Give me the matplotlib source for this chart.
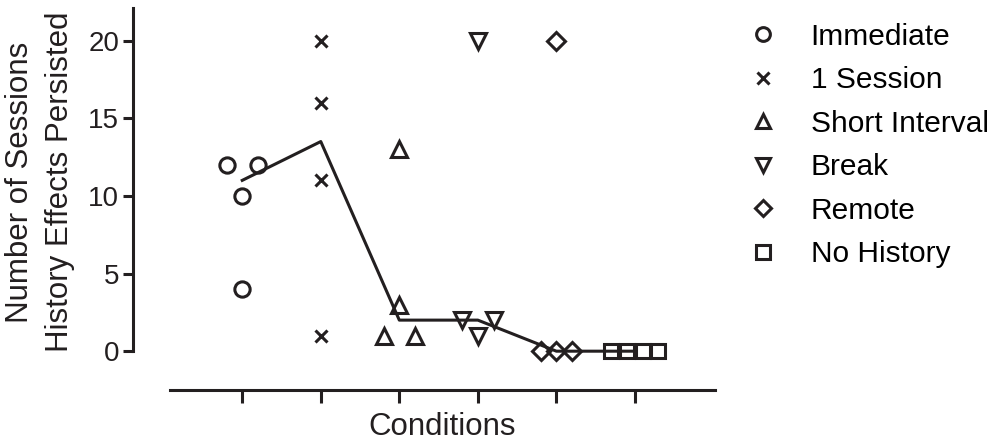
import matplotlib
matplotlib.use("Agg")
import matplotlib.pyplot as plt
import numpy as np

plt.rcParams["font.family"] = ["Liberation Sans", "DejaVu Sans"]

conditions = ["Immediate", "1 Session", "Short Interval", "Break", "Remote", "No History"]
markers = ["o", "x", "^", "v", "D", "s"]

# per-condition values and horizontal jitter (in category units)
values = [
    [12, 12, 10, 4],
    [20, 16, 11, 1],
    [13, 3, 1, 1],
    [20, 2, 1, 2],
    [20, 0, 0, 0],
    [0, 0, 0, 0],
]
jitter = [
    [-0.2, 0.2, 0.0, 0.0],
    [0.0, 0.0, 0.0, 0.0],
    [0.0, 0.0, -0.2, 0.2],
    [0.0, -0.2, 0.0, 0.2],
    [0.0, -0.2, 0.0, 0.2],
    [-0.3, -0.1, 0.1, 0.3],
]
medians = [np.median(v) for v in values]

ink = "#231f20"

fig = plt.figure(figsize=(10, 4.41), dpi=100)
ax = fig.add_axes([0.170, 51 / 441, 0.545, 382 / 441])

sizes = {"o": 11, "x": 9, "^": 11, "v": 11, "D": 9.5, "s": 10.5}
handles = []
for i, (name, mk) in enumerate(zip(conditions, markers)):
    xs = np.array(jitter[i]) + i + 1
    h, = ax.plot(xs, values[i], linestyle="none", marker=mk, markersize=sizes[mk],
                 markerfacecolor="none", markeredgecolor=ink,
                 markeredgewidth=2.2, label=name)
    handles.append(h)

ax.plot(np.arange(1, 7), medians, color=ink, linewidth=2.2, zorder=1)

ax.set_xlim(0.08, 7.02)
ax.set_ylim(-2.5, 22.1)
ax.spines["top"].set_visible(False)
ax.spines["right"].set_visible(False)
ax.spines["left"].set_position(("outward", 26.6))
ax.spines["left"].set_bounds(0, 22.1)
for s in ["left", "bottom"]:
    ax.spines[s].set_linewidth(2.2)
    ax.spines[s].set_color(ink)

ax.set_xticks(np.arange(1, 7))
ax.set_xticklabels([])
ax.set_yticks([0, 5, 10, 15, 20])
ax.tick_params(axis="both", width=2.2, color=ink, labelsize=20,
               labelcolor=ink)
ax.tick_params(axis="x", length=9)
ax.tick_params(axis="y", length=7, pad=3)

ax.set_xlabel("Conditions", fontsize=22.5, color=ink, labelpad=3)
fig.text(0.040, 1 - 182 / 441, "Number of Sessions\nHistory Effects Persisted",
         rotation=90, ha="center", va="center", multialignment="center",
         fontsize=22.5, color=ink, linespacing=1.4)

fig.legend(handles=handles, loc="upper left", bbox_to_anchor=(0.736, 0.976),
           frameon=False, fontsize=21.5, handlelength=1.0, handletextpad=1.1,
           labelspacing=0.52, markerscale=0.9, borderaxespad=0)

fig.savefig("out.png", dpi=100)
